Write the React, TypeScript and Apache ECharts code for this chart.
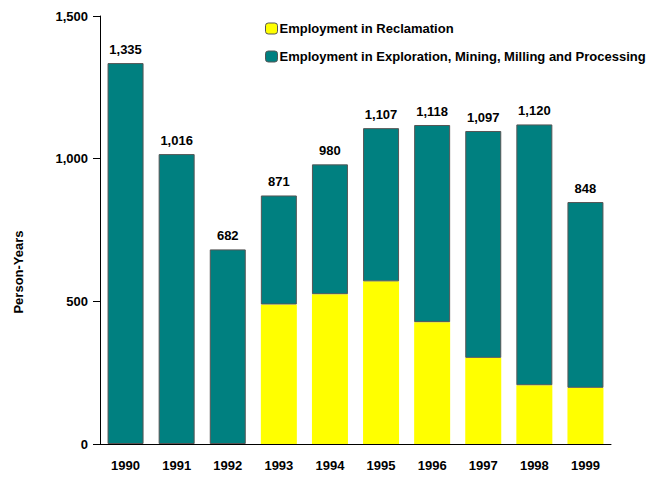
import React, { useEffect, useRef } from "react";
import * as echarts from "echarts";

const years = ["1990", "1991", "1992", "1993", "1994", "1995", "1996", "1997", "1998", "1999"];
const totals = [1335, 1016, 682, 871, 980, 1107, 1118, 1097, 1120, 848];
const reclamation = [0, 0, 0, 489, 525, 570, 427, 302, 206, 197];
const yTicks = [0, 500, 1000, 1500];

const FONT = "'Liberation Sans Narrow', 'Arial Narrow', 'Liberation Sans', Arial, sans-serif";

const fmt = (v: number) => v.toLocaleString("en-US");

export default function App() {
  const ref = useRef<HTMLDivElement>(null);
  useEffect(() => {
    if (!ref.current) return;
    const chart = echarts.init(ref.current, undefined, { renderer: "svg" });
    const exploration = totals.map((t, i) => t - reclamation[i]);
    chart.setOption({
      animation: false,
      backgroundColor: "#ffffff",
      textStyle: { fontFamily: FONT },
      grid: { left: 100, right: 36, top: 16, bottom: 35 },
      legend: {
        orient: "vertical",
        left: 260,
        top: 17,
        itemWidth: 12,
        itemHeight: 11,
        itemGap: 15,
        selectedMode: false,
        textStyle: { fontFamily: FONT, fontWeight: "bold", fontSize: 13, color: "#000", padding: [0, 0, 0, -3] },
        data: [
          { name: "Employment in Reclamation", itemStyle: { color: "#ffff00", borderColor: "#555", borderWidth: 1 } },
          { name: "Employment in Exploration, Mining, Milling and Processing", itemStyle: { color: "#008080", borderColor: "#555", borderWidth: 1 } },
        ],
      },
      xAxis: {
        type: "category",
        data: years,
        axisLine: { lineStyle: { color: "#000", width: 1 } },
        axisTick: { alignWithLabel: true, length: 9, lineStyle: { color: "#777", width: 1.5 } },
        axisLabel: { fontFamily: FONT, fontWeight: "bold", fontSize: 13, color: "#000", margin: 15 },
        splitLine: { show: false },
      },
      yAxis: {
        type: "value",
        min: 0,
        max: yTicks[yTicks.length - 1],
        interval: 500,
        axisLine: { show: true, lineStyle: { color: "#000", width: 1 } },
        axisTick: { show: true, length: 7, lineStyle: { color: "#000" } },
        axisLabel: { fontFamily: FONT, fontWeight: "bold", fontSize: 13, color: "#000", margin: 12, formatter: (v: number) => fmt(v) },
        splitLine: { show: false },
      },
      graphic: [
        {
          type: "text",
          x: 18,
          y: 272,
          rotation: Math.PI / 2,
          style: {
            text: "Person-Years",
            fontFamily: FONT,
            fontWeight: "bold",
            fontSize: 13,
            fill: "#000",
            textAlign: "center",
            textVerticalAlign: "middle",
          },
        },
      ],
      series: [
        {
          name: "Employment in Reclamation",
          type: "bar",
          stack: "total",
          barWidth: 36,
          data: reclamation,
          itemStyle: { color: "#ffff00" },
        },
        {
          name: "Employment in Exploration, Mining, Milling and Processing",
          type: "bar",
          stack: "total",
          barWidth: 36,
          data: exploration,
          itemStyle: { color: "#008080", borderColor: "#555", borderWidth: 1 },
          label: {
            show: true,
            position: "top",
            distance: 7,
            fontFamily: FONT,
            fontWeight: "bold",
            fontSize: 13,
            color: "#000",
            formatter: (p: any) => fmt(totals[p.dataIndex]),
          },
        },
      ],
    });
    return () => chart.dispose();
  }, []);
  return <div ref={ref} style={{ position: "fixed", left: 0, top: 0, width: 647, height: 479 }} />;
}
